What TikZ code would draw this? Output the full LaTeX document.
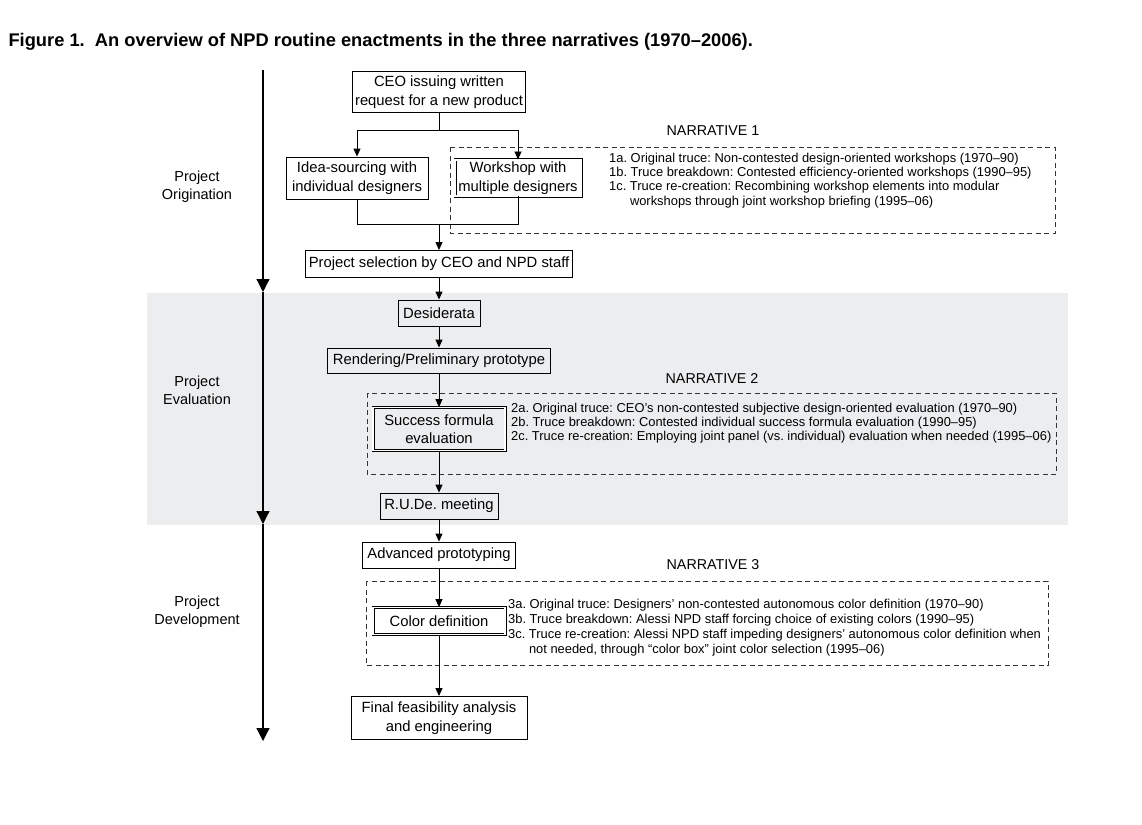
\documentclass[tikz,border=0pt]{standalone}
\usepackage{fontspec}
\setmainfont{Liberation Sans}
\usetikzlibrary{arrows.meta, positioning}
\definecolor{bandgray}{HTML}{ECEDEF}
\frenchspacing
\tikzset{
    >={Triangle[width=7pt,length=8pt]},
    stage/.style={draw, line width=0.9pt, align=center, inner xsep=3pt, inner ysep=2pt,
        font=\fontsize{14.8}{18.5}\selectfont},
    truce/.style={stage, double, double distance=1.6pt, line width=0.7pt},
    flow/.style={->, line width=0.9pt},
    phase/.style={-{Triangle[width=13pt,length=13pt]}, line width=1.2pt},
    phasename/.style={align=center, font=\fontsize{14.5}{18}\selectfont},
    narrative/.style={draw=black!80, line width=0.8pt, dash pattern=on 5pt off 3.5pt},
    narrhead/.style={font=\fontsize{14.3}{17}\selectfont},
    note/.style={anchor=north west, align=left, inner sep=0pt, font=\fontsize{12.9}{14.2}\selectfont},
}
\begin{document}
\begin{tikzpicture}[x=1pt, y=-1pt]
    \useasboundingbox (0,0) rectangle (1142,824);
    \fill[bandgray] (147,293) rectangle (1068,525);
    \node[anchor=west, font=\bfseries\fontsize{18.3}{21}\selectfont] (title) at (5,42)
        {Figure 1.\ \ An overview of NPD routine enactments in the three narratives (1970–2006).};
    % phases of the project
    \coordinate (t0) at (263,70);
    \coordinate (t1) at (263,292);
    \coordinate (t2) at (263,524);
    \coordinate (t3) at (263,741);
    \draw[phase] (t0) -- (t1);
    \draw[phase] (t1) -- (t2);
    \draw[phase] (t2) -- (t3);
    \node[phasename] (orig) at (197,187) {Project\\Origination};
    \node[phasename] (eval) at (197,390) {Project\\Evaluation};
    \node[phasename] (dev) at (197,612) {Project\\Development};
    % narratives
    \draw[narrative] (450,147) rectangle (1055,233);
    \draw[narrative] (367,393) rectangle (1056,474);
    \draw[narrative] (366,581) rectangle (1048,665);
    \node[narrhead] (head1) at (713,131) {NARRATIVE 1};
    \node[narrhead] (head2) at (712,379) {NARRATIVE 2};
    \node[narrhead] (head3) at (713,565) {NARRATIVE 3};
    \node[note] (note1) at (609,153) {1a. Original truce: Non-contested design-oriented workshops (1970–90)\\
        1b. Truce breakdown: Contested efficiency-oriented workshops (1990–95)\\
        1c. Truce re-creation: Recombining workshop elements into modular\\
        \phantom{1c.\ }workshops through joint workshop briefing (1995–06)};
    \node[note] (note2) at (511,403) {2a. Original truce: CEO’s non-contested subjective design-oriented evaluation (1970–90)\\
        2b. Truce breakdown: Contested individual success formula evaluation (1990–95)\\
        2c. Truce re-creation: Employing joint panel (vs. individual) evaluation when needed (1995–06)};
    \node[note, font=\fontsize{12.9}{15}\selectfont] (note3) at (508,599) {3a. Original truce: Designers’ non-contested autonomous color definition (1970–90)\\
        3b. Truce breakdown: Alessi NPD staff forcing choice of existing colors (1990–95)\\
        3c. Truce re-creation: Alessi NPD staff impeding designers’ autonomous color definition when\\
        \phantom{3c.\ }not needed, through “color box” joint color selection (1995–06)};
    % routine steps
    \node[stage, minimum width=172pt, minimum height=41pt] (ceo) at (439,92) {CEO issuing written\\request for a new product};
    \node[stage, minimum width=142pt, minimum height=42pt] (idea) at (357,178) {Idea-sourcing with\\individual designers};
    \node[truce, minimum width=126pt, minimum height=35pt] (work) at (518,178) {Workshop with\\multiple designers};
    \node[stage, minimum width=266pt, minimum height=27pt] (select) at (439,264) {Project selection by CEO and NPD staff};
    \node[stage, minimum width=82pt, minimum height=26pt] (desid) at (439,313) {Desiderata};
    \node[stage, minimum width=223pt, minimum height=25pt] (render) at (439,360.5) {Rendering/Preliminary prototype};
    \node[truce, minimum width=132pt, minimum height=43pt] (success) at (439,429) {Success formula\\evaluation};
    \node[stage, minimum width=118pt, minimum height=26pt] (rude) at (439,506) {R.U.De. meeting};
    \node[stage, minimum width=153pt, minimum height=26pt] (adv) at (439,555) {Advanced prototyping};
    \node[truce, minimum width=132pt, minimum height=27pt] (color) at (439,621) {Color definition};
    \node[stage, minimum width=176pt, minimum height=43pt] (final) at (439,718) {Final feasibility analysis\\and engineering};
    \coordinate (split) at (439,130);
    \coordinate (merge) at (439,224);
    \draw[line width=0.9pt] (ceo) -- (split);
    \draw[flow] (split) -| (idea);
    \draw[flow] (split) -| (work);
    \draw[line width=0.9pt] (idea) |- (merge);
    \draw[line width=0.9pt] (work) |- (merge);
    \draw[flow] (merge) -- (select);
    \foreach \a/\b in {select/desid, desid/render, render/success, success/rude, rude/adv, adv/color, color/final}
        \draw[flow] (\a) -- (\b);
\end{tikzpicture}
\end{document}
